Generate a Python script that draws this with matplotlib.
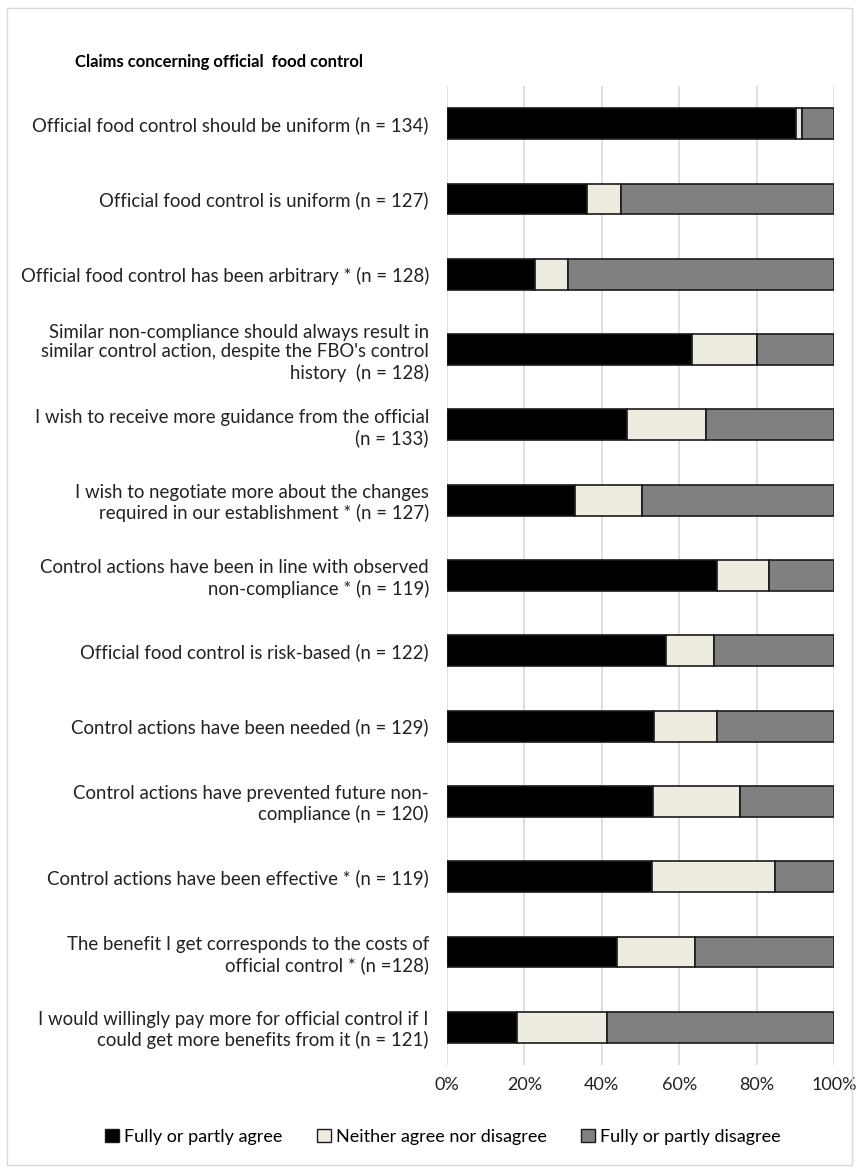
import matplotlib
matplotlib.use("Agg")
import matplotlib.pyplot as plt
from matplotlib.patches import Rectangle, Patch
from matplotlib.ticker import PercentFormatter

plt.rcParams['font.family'] = ['Lato', 'DejaVu Sans']

categories = [
    "Official food control should be uniform (n = 134)",
    "Official food control is uniform (n = 127)",
    "Official food control has been arbitrary * (n = 128)",
    "Similar non-compliance should always result in\nsimilar control action, despite the FBO's control\nhistory  (n = 128)",
    "I wish to receive more guidance from the official\n(n = 133)",
    "I wish to negotiate more about the changes\nrequired in our establishment * (n = 127)",
    "Control actions have been in line with observed\nnon-compliance * (n = 119)",
    "Official food control is risk-based (n = 122)",
    "Control actions have been needed (n = 129)",
    "Control actions have prevented future non-\ncompliance (n = 120)",
    "Control actions have been effective * (n = 119)",
    "The benefit I get corresponds to the costs of\nofficial control * (n =128)",
    "I would willingly pay more for official control if I\ncould get more benefits from it (n = 121)",
]
agree    = [90.3, 36.2, 22.7, 63.3, 46.6, 33.1, 69.7, 56.6, 53.5, 53.3, 52.9, 43.8, 18.2]
neutral  = [1.5,  8.7,  8.6, 16.8, 20.3, 17.3, 13.4, 12.3, 16.3, 22.5, 31.9, 20.3, 23.1]
disagree = [8.2, 55.1, 68.7, 19.9, 33.1, 49.6, 16.9, 31.1, 30.2, 24.2, 15.2, 35.9, 58.7]
series_names = ["Fully or partly agree", "Neither agree nor disagree", "Fully or partly disagree"]
colors = ["#000000", "#EEECE1", "#808080"]

W, H = 859, 1173
fig = plt.figure(figsize=(W/100, H/100), dpi=100)
fig.patches.append(Rectangle((7/W, 8/H), 845/W, 1157/H, transform=fig.transFigure,
                             fill=False, edgecolor="#D9D9D9", linewidth=1))

ax = fig.add_axes([447/W, 1 - 1065/H, 387/W, (1065-86)/H])
y = list(range(len(categories)))
left = [0]*len(categories)
for vals, col, name in zip([agree, neutral, disagree], colors, series_names):
    ax.barh(y, vals, left=left, height=0.41, color=col, edgecolor="#1a1a1a",
            linewidth=1.2, label=name, zorder=3)
    left = [l + v for l, v in zip(left, vals)]

ax.set_xlim(0, 100)
ax.set_ylim(len(categories) - 0.5, -0.5)
ax.set_xticks([0, 20, 40, 60, 80, 100])
ax.xaxis.set_major_formatter(PercentFormatter(decimals=0))
ax.set_yticks(y)
ax.set_yticklabels(categories, fontsize=13.4, ha='right', multialignment='right',
                   linespacing=1.2)
ax.tick_params(axis='x', length=0, labelsize=13, colors="#222222", pad=9)
ax.tick_params(axis='y', length=0, colors="#222222", pad=13)
ax.grid(axis='x', color="#D9D9D9", linewidth=1.2, zorder=0)
for s in ax.spines.values():
    s.set_visible(False)

fig.text(75/W, 1 - 62/H, "Claims concerning official  food control", fontsize=12,
         fontweight='bold', va='center', ha='left')

handles = [Patch(facecolor=c, edgecolor="#1a1a1a", linewidth=1) for c in colors]
fig.legend(handles, series_names, loc='center', bbox_to_anchor=(443/W, 1 - 1137/H),
           ncol=3, frameon=False, fontsize=13, handlelength=0.75, handleheight=0.75,
           handletextpad=0.3, columnspacing=1.9)

fig.savefig("out.png", dpi=100)
